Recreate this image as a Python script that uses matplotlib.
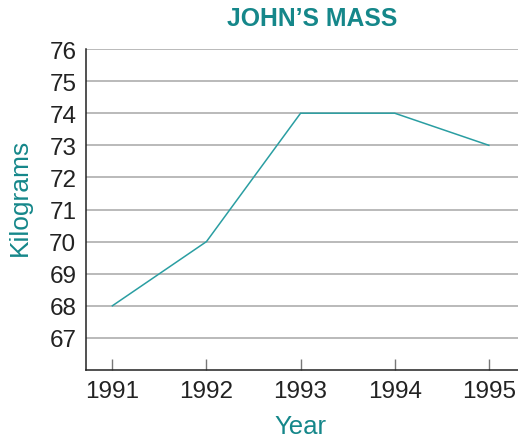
import matplotlib
matplotlib.use("Agg")
import matplotlib.pyplot as plt

years = [1991, 1992, 1993, 1994, 1995]
mass_kg = [68, 70, 74, 74, 73]
y_ticks = [67, 68, 69, 70, 71, 72, 73, 74, 75, 76]

title_color = "#15878a"
line_color = "#2a9ea2"

plt.rcParams["font.family"] = ["Liberation Sans", "DejaVu Sans"]

fig = plt.figure(figsize=(5.18, 4.39), dpi=100)
ax = fig.add_axes([86 / 518, 1 - 371 / 439, 1 - 86 / 518, (371 - 50) / 439])

ax.plot(years, mass_kg, color=line_color, lw=1.1, solid_joinstyle="miter", zorder=3)

ax.set_xlim(1990.72, 1995.31)
ax.set_ylim(66, 76)
ax.set_xticks(years)
ax.set_xticklabels([str(y) for y in years])
ax.set_yticks(y_ticks)
ax.set_yticklabels([str(v) for v in y_ticks])

ax.grid(axis="y", color="#b4b4b4", lw=1.3)
ax.set_axisbelow(True)

for side in ("top", "right"):
    ax.spines[side].set_visible(False)
for side in ("left", "bottom"):
    ax.spines[side].set_color("#222222")
    ax.spines[side].set_linewidth(1.1)

ax.tick_params(axis="x", direction="in", length=8, width=1, color="#777777",
               labelsize=17.5, pad=7, labelcolor="#222222")
ax.tick_params(axis="y", length=0, labelsize=17.5, pad=7, labelcolor="#222222")

fig.text(312 / 518, 1 - 19 / 439, "JOHN\u2019S MASS", ha="center", va="center",
         fontsize=17.8, fontweight="bold", color=title_color)
fig.text(20 / 518, 1 - 197 / 439, "Kilograms", ha="center", va="center",
         rotation=90, fontsize=19, color=title_color)
fig.text(300 / 518, 1 - 427 / 439, "Year", ha="center", va="center",
         fontsize=18.5, color=title_color)

fig.savefig("out.png", dpi=100)
